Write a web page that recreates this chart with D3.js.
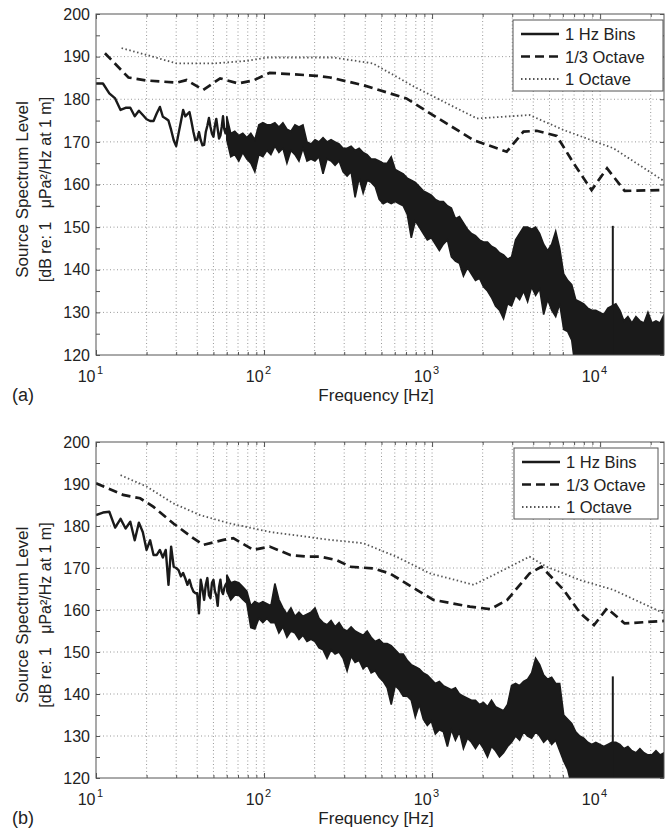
<!DOCTYPE html>
<html>
<head>
<meta charset="utf-8">
<title>Source spectrum level</title>
<script src="https://d3js.org/d3.v7.min.js"></script>
<style>
  body { margin: 0; background: #fff; }
  svg text { font-family: "Liberation Sans", Arial, sans-serif; fill: #222; }
</style>
</head>
<body>
<svg id="chart" width="672" height="830"></svg>

<script>

// 1 Hz bins, 10..59 Hz, one value per bin (dB)
const lowBinsA = [183.7,183.7,181.4,180.2,177.5,178,178,176,177.3,176.3,
                  175.3,174.9,174.9,176.7,178.2,175.9,175.5,175,172.8,170.4,
                  169,172,174.7,177.5,176,176.5,177,174.7,172.3,170.4,
                  170.5,172.3,170.4,169.2,169.3,172.3,173.8,175.6,173.5,171.9,
                  171.2,173.8,175.4,173,170.8,171.5,173.5,176,173,172];
const lowBinsB = [182.6,183.2,183.4,179.6,181.7,179.4,181.0,176.6,180.8,178.5,
                  174.3,176.6,173.1,173.1,174.3,172.5,174.3,166.0,175.1,170.3,
                  170.0,169.5,168.0,168.8,167.5,166.0,167.2,165.5,164.4,164.0,
                  164,159.2,167.2,165,162.4,166,167.6,163.5,162.8,166.5,
                  167.2,164.5,163.5,161,165.5,167.2,164.5,163.8,165.2,166];

// Above 60 Hz the 1 Hz bins are too dense to read one by one:
// max / min of the trace in 110 log-spaced columns from 60 Hz to 24 kHz
const denseHiA = [176,172,172.5,171.5,172,171,172,170.5,174,174.5,
                  174,174,174.5,173.5,174.5,173,172.5,174,173.5,174,
                  170,169.5,170.5,170,171,170,170.5,170,169.5,168.5,
                  168.5,169,168,168.5,167.5,167,166,166,165.5,165,
                  165,166.5,163.5,163,162.5,161.5,161,160.5,159.5,158.5,
                  158,157.5,156.5,156,156,155,154.5,152,152.5,151,
                  149.5,148.5,148,147,146.5,146.5,145.5,145,144,143.5,
                  142.5,143,147,148.5,150,150,149.5,150,148.5,146,
                  144.5,146,149,145,139,137.5,136.5,133,132.5,132,
                  131,130.5,130.5,130,129.5,131,131.5,132,130.5,128,
                  129,127.5,129,128,127.5,130,127.5,128,127.5,129.5];
const denseLoA = [170.5,166.5,167,165.5,167.5,166,165,163,167,166.5,
                  168,167,169,167.5,168.5,165,168,167,165.5,168.5,
                  165.5,166,165.5,166.5,162.5,166,165.5,164.5,165.5,163,
                  162,163,157,161.5,158,161,160.5,159.5,156.5,155.5,
                  156,155.5,156,155.5,155,153,147.5,151.5,150,148.5,
                  147,147.5,146,144.5,146,147,143,142,141.5,138.5,
                  140.5,139,137.5,138,136,135,133.5,131.5,130.5,128.5,
                  132,131.5,134,133,135,132.5,136,134,135.5,129.5,
                  133,130.5,129,132,126,125.5,123.5,116,115,115,
                  115,115,115,115,115,115,115,115,115,115,
                  115,115,115,115,115,115,115,115,115,115];
const denseHiB = [168.4,166.5,166.8,166.5,165.5,164.5,161,162,161.5,162,
                  161.5,161,166.3,162.5,160.5,159,160.5,158.5,159.5,158.5,
                  159,159.5,160.5,158,157,156.5,157.5,156,157,155.5,
                  155,156,155,154.5,154,155,153.5,152.5,153,152,
                  152,151.5,150.5,149.5,149.5,148,147,146.5,146,145,
                  144.5,143.5,142.5,143,142,141.5,141,141.5,140,139.5,
                  139,138.5,138.5,137.5,138,137,138.5,137,136.5,136,
                  137.5,142,142.5,142,143,143.5,145,148.5,147,144.5,
                  143.5,144,142.5,142.5,135,134,133,131,130,129.5,
                  128.5,128,128.5,128,127.5,128,128.5,128.5,128,127,
                  127.5,126.5,126,127,126,125.5,125.5,126.5,125.5,126];
const denseLoB = [164.5,162.4,163.5,163.5,162.5,161.6,155.8,155.5,158,157,
                  158,157,157,154.5,156,153.5,155,154.5,153,154,
                  152.5,153,152.5,151,150.5,148.5,150.5,149.5,150,148.5,
                  145.5,149,147.5,148,146,147,145,145.5,144,143,
                  141.5,137.5,142,141,139.5,139.5,138.5,134.5,137.5,134,
                  132.5,133.5,130.5,131.5,131,127.5,131.5,129,131,127,
                  129.5,128.5,127,128.5,127,125,127.5,126.5,125,126,
                  127.5,128.5,130,129,131,130,129.5,131,130,128.5,
                  129.5,128,129,126.5,124,122,118,115,115,115,
                  115,115,115,115,115,115,115,115,115,115,
                  115,115,115,115,115,115,115,115,115,115];

// narrow tone near 12 kHz
const toneHz = [11900];
const toneA = [150.3];
const toneB = [144.2];

// 1/3 octave levels
const thirdHzA = [11.3,15.6,20,30.2,34.6,43.5,54.8,70.3,86.3,108,143,206,247,390,703,973,
                  1770,2780,3500,4200,5520,6950,8900,11000,14000,24000];
const thirdA   = [190.8,185.1,184.4,183.9,184.5,182.2,184.9,183.7,184.4,186.2,185.9,185.5,185.1,183.3,180.2,176.7,
                  170.4,167.7,172.4,172.6,171.4,165,158.7,163.8,158.5,158.7];
const thirdHzB = [10,14.5,18.3,21.9,28.9,37.9,43.6,57.3,65.6,86.5,108,143,180,215,270,326,445,562,810,1020,
                  1680,2230,2800,3800,4480,6060,7640,9200,11000,14000,24000];
const thirdB   = [190.2,187.4,186.6,184.6,180.6,177.1,175.5,176.7,177.1,174.3,175.1,173.1,172.7,172.7,171.9,170.3,169.9,168.7,164.8,162.4,
                  160.8,160.2,162.4,168.7,170.3,164.8,159.2,156.4,160.4,156.8,157.4];

// 1 octave levels
const octHzA = [14.2,20,30.2,50,78.7,104,258,445,778,1230,1850,3800,6050,12000,24000];
const octA   = [192,190.4,188.4,188.4,189,189.8,189.8,188.4,183,179,175.5,176.3,172.8,168.5,160.8];
const octHzB = [14,20,28.8,41.6,62.7,108,247,390,613,973,1770,2420,3800,4800,7640,12000,24000];
const octB   = [192.1,189.4,185.4,182.6,180.6,178.6,176.7,175.9,172.7,168.7,166,168.7,172.7,170.3,167.1,164.8,159.2];

const legendLabels = ["1 Hz Bins", "1/3 Octave", "1 Octave"];
const yTicks = [120, 130, 140, 150, 160, 170, 180, 190, 200];
const yMinor = d3.range(120, 201, 5);
const decades = [10, 100, 1000, 10000];

const svg = d3.select("#chart");
const left = 96, right = 664;
const ink = "#1a1a1a";
const dotColor = "#555";
const dotDash = "1.5 2.5";

const x = d3.scaleLog().domain([10, 24000]).range([left, right]);

const panels = [
  {id: "a", top: 14, bottom: 355, low: lowBinsA, hi: denseHiA, lo: denseLoA, tone: toneA,
   thirdHz: thirdHzA, third: thirdA, octHz: octHzA, oct: octA, legendRight: 663, legendW: 150},
  {id: "b", top: 442, bottom: 778, low: lowBinsB, hi: denseHiB, lo: denseLoB, tone: toneB,
   thirdHz: thirdHzB, third: thirdB, octHz: octHzB, oct: octB, legendRight: 658, legendW: 144}
];

panels.forEach(drawPanel);

function drawPanel(p) {
  const y = d3.scaleLinear().domain([120, 200]).range([p.bottom, p.top]);
  const g = svg.append("g");

  // clip to plot area
  g.append("clipPath").attr("id", "clip-" + p.id)
    .append("rect")
      .attr("x", left).attr("y", p.top)
      .attr("width", right - left).attr("height", p.bottom - p.top);

  // dotted grid
  const grid = g.append("g")
      .attr("stroke", "#999")
      .attr("stroke-width", 1)
      .attr("stroke-dasharray", "1 2.5");

  grid.selectAll(".gx")
    .data(x.ticks().filter(d => d > 10))
    .join("line")
      .attr("x1", d => x(d)).attr("x2", d => x(d))
      .attr("y1", p.top).attr("y2", p.bottom);

  grid.selectAll(".gy")
    .data(yTicks.slice(1, -1))
    .join("line")
      .attr("x1", left).attr("x2", right)
      .attr("y1", d => y(d)).attr("y2", d => y(d));

  // axes: inward ticks on all four sides
  const majorX = x.ticks().filter(d => decades.includes(d));
  const minorX = x.ticks().filter(d => !decades.includes(d));

  const axes = [
    g.append("g").attr("transform", `translate(0,${p.bottom})`)
      .call(d3.axisBottom(x).tickValues(minorX).tickSize(-3).tickFormat("")),
    g.append("g").attr("transform", `translate(0,${p.bottom})`)
      .call(d3.axisBottom(x).tickValues(majorX).tickSize(-5).tickFormat("")),
    g.append("g").attr("transform", `translate(0,${p.top})`)
      .call(d3.axisTop(x).tickValues(minorX).tickSize(-3).tickFormat("")),
    g.append("g").attr("transform", `translate(0,${p.top})`)
      .call(d3.axisTop(x).tickValues(majorX).tickSize(-5).tickFormat("")),
    g.append("g").attr("transform", `translate(${right},0)`)
      .call(d3.axisRight(y).tickValues(yMinor).tickSize(-4).tickFormat("")),
    g.append("g").attr("transform", `translate(${left},0)`)
      .call(d3.axisLeft(y).tickValues(yMinor).tickSize(-4).tickPadding(6)
        .tickFormat(d => d % 10 === 0 ? d : ""))
  ];
  axes.forEach(a => {
    a.select(".domain").remove();
    a.selectAll("line").attr("stroke", "#555");
    a.selectAll("text").style("font-size", "16px").attr("fill", "#222");
  });

  // x labels as 10^n
  const xl = g.append("g").selectAll("g")
    .data(decades)
    .join("g");
  xl.append("text")
      .attr("x", d => x(d) - 0.5)
      .attr("y", p.bottom + 27)
      .attr("text-anchor", "end")
      .style("font-size", "16px")
      .text("10");
  xl.append("text")
      .attr("x", d => x(d) + 1)
      .attr("y", p.bottom + 19)
      .style("font-size", "11px")
      .text(d => Math.round(Math.log10(d)));

  // data
  const plot = g.append("g").attr("clip-path", `url(#clip-${p.id})`);

  const denseHz = d3.range(p.hi.length)
    .map(i => 60 * Math.pow(24000 / 60, i / (p.hi.length - 1)));
  const lowHz = p.low.map((d, i) => 10 + i);

  const line = d3.line().x(d => x(d[0])).y(d => y(d[1]));

  plot.append("path")
      .datum(denseHz.map((f, i) => [f, p.hi[i], p.lo[i]]))
      .attr("fill", ink)
      .attr("stroke", ink)
      .attr("stroke-width", 1.6)
      .attr("d", d3.area().x(d => x(d[0])).y0(d => y(d[2])).y1(d => y(d[1])));

  plot.append("path")
      .datum(lowHz.map((f, i) => [f, p.low[i]]).concat([[denseHz[0], (p.hi[0] + p.lo[0]) / 2]]))
      .attr("fill", "none")
      .attr("stroke", ink)
      .attr("stroke-width", 2.4)
      .attr("stroke-linejoin", "round")
      .attr("d", line);

  plot.selectAll(".tone")
    .data(toneHz.map((f, i) => [f, p.tone[i]]))
    .join("line")
      .attr("x1", d => x(d[0])).attr("x2", d => x(d[0]))
      .attr("y1", y(120)).attr("y2", d => y(d[1]))
      .attr("stroke", ink)
      .attr("stroke-width", 2);

  plot.append("path")
      .datum(p.thirdHz.map((f, i) => [f, p.third[i]]))
      .attr("fill", "none")
      .attr("stroke", ink)
      .attr("stroke-width", 2.7)
      .attr("stroke-dasharray", "9 5")
      .attr("d", line);

  plot.append("path")
      .datum(p.octHz.map((f, i) => [f, p.oct[i]]))
      .attr("fill", "none")
      .attr("stroke", dotColor)
      .attr("stroke-width", 1.8)
      .attr("stroke-dasharray", dotDash)
      .attr("d", line);

  // box
  g.append("rect")
      .attr("x", left).attr("y", p.top)
      .attr("width", right - left).attr("height", p.bottom - p.top)
      .attr("fill", "none")
      .attr("stroke", "#555")
      .attr("stroke-width", 1);

  // legend
  const lx = p.legendRight - p.legendW, ly = p.top + 6;
  const leg = g.append("g").attr("transform", `translate(${lx},${ly})`);
  leg.append("rect")
      .attr("width", p.legendW).attr("height", 71)
      .attr("fill", "#fff")
      .attr("stroke", "#555");
  const styles = [
    {stroke: ink, width: 2.4, dash: null},
    {stroke: ink, width: 2.7, dash: "9 5"},
    {stroke: dotColor, width: 1.8, dash: dotDash}
  ];
  const row = leg.selectAll(".row")
    .data(legendLabels)
    .join("g")
      .attr("transform", (d, i) => `translate(0,${14 + i * 22.5})`);
  row.append("line")
      .attr("x1", 8).attr("x2", 46)
      .attr("stroke", (d, i) => styles[i].stroke)
      .attr("stroke-width", (d, i) => styles[i].width)
      .attr("stroke-dasharray", (d, i) => styles[i].dash);
  row.append("text")
      .attr("x", 52).attr("y", 6)
      .style("font-size", "16.5px")
      .text(d => d);

  // axis titles
  g.append("text")
      .attr("x", (left + right) / 2 - 4)
      .attr("y", p.bottom + 46)
      .attr("text-anchor", "middle")
      .style("font-size", "17px")
      .text("Frequency [Hz]");

  g.append("text")
      .attr("x", 12)
      .attr("y", p.bottom + 46)
      .style("font-size", "18px")
      .text("(" + p.id + ")");

  const cy = (p.top + p.bottom) / 2 + 5;
  g.append("text")
      .attr("transform", `translate(27.5,${cy}) rotate(-90)`)
      .attr("text-anchor", "middle")
      .style("font-size", "17px")
      .text("Source Spectrum Level");
  g.append("text")
      .attr("transform", `translate(50.5,${cy}) rotate(-90)`)
      .attr("text-anchor", "middle")
      .style("font-size", "16px")
      .style("white-space", "pre")
      .text("[dB re: 1\u00a0\u00a0\u00a0μPa²/Hz at 1 m]");
}

</script>
</body>
</html>
